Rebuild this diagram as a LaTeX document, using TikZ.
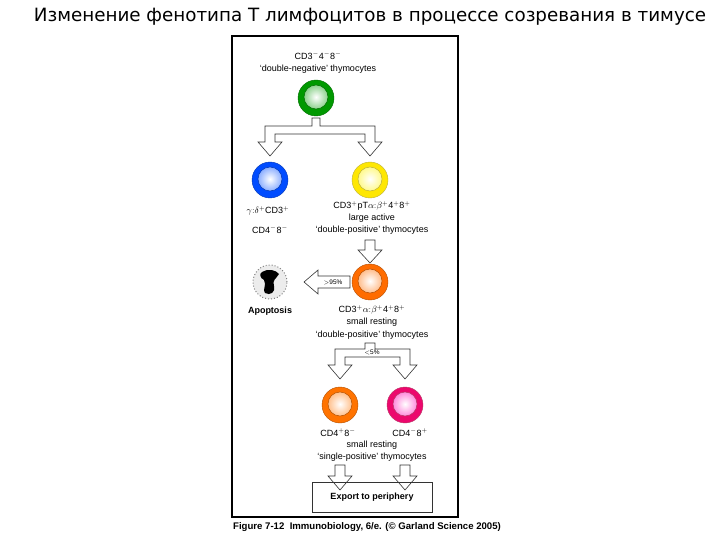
\documentclass[tikz,border=0pt]{standalone}
\usepackage{fontspec}
\setmainfont{Liberation Sans}
\newfontfamily\titlefont{DejaVu Sans}
\begin{document}
\begin{tikzpicture}[x=1pt,y=-1pt,
  lbl/.style={font=\fontsize{9}{9}\selectfont,inner sep=0pt},
  blk/.style={draw=black!80,fill=white,line width=0.6pt,line join=miter}]
\useasboundingbox (0,0) rectangle (720,540);
\node[font=\titlefont\fontsize{18.3}{19}\selectfont,inner sep=0pt] (title) at (370,17) {Изменение фенотипа Т лимфоцитов в процессе созревания в тимусе};
\draw[line width=1.2pt] (232,36) rectangle (458,517);
% cells
\newcommand{\cell}[4]{%
  \node[circle,minimum size=36pt,inner sep=0pt,fill=#3,draw=#3!70!black,line width=0.4pt] (#4) at (#1,#2) {};
  \shade[inner color=white,outer color=#3!45] (#1,#2-1) circle (12);
  \draw[#3!70!black,line width=0.5pt] (#1,#2-1) circle (12);}
\cell{316}{98}{green!60!black}{dn}
\cell{270}{180}{blue!70!cyan}{gd}
\cell{370}{180}{yellow!90!orange}{dp}
\cell{370}{282}{orange!85!red}{sdp}
\cell{340}{405}{orange!90!red}{cd4}
\cell{405}{405}{magenta!70!red}{cd8}
% apoptosis
\node[circle,minimum size=34pt,draw=gray,dotted,line width=1pt,fill=gray!15] (apo) at (270,282) {};
\fill[black] (262,272) .. controls (268,268) and (276,270) .. (279,274) .. controls (276,279) and (272,280) .. (274,286) .. controls (276,292) and (270,296) .. (265,293) .. controls (262,290) and (267,285) .. (264,280) .. controls (260,278) and (259,274) .. (262,272);
% texts
\node[lbl] (t1) at (318,56) {CD3$^-$4$^-$8$^-$};
\node[lbl] (t2) at (318,69) {‘double-negative’ thymocytes};
\node[lbl] (t3) at (268,211) {$\gamma{:}\delta^+$CD3$^+$};
\node[lbl] (t4) at (270,230) {CD4$^-$8$^-$};
\node[lbl] (t5) at (372,206) {CD3$^+$pT$\alpha{:}\beta^+$4$^+$8$^+$};
\node[lbl] (t6) at (372,218) {large active};
\node[lbl] (t7) at (372,230) {‘double-positive’ thymocytes};
\node[lbl,font=\bfseries\fontsize{9}{9}\selectfont] (t8) at (270,311) {Apoptosis};
\node[lbl] (t9) at (372,310) {CD3$^+\alpha{:}\beta^+$4$^+$8$^+$};
\node[lbl] (t10) at (372,322) {small resting};
\node[lbl] (t11) at (372,335) {‘double-positive’ thymocytes};
\node[lbl] (t12) at (338,433) {CD4$^+$8$^-$};
\node[lbl] (t13) at (410,433) {CD4$^-$8$^+$};
\node[lbl] (t14) at (372,445) {small resting};
\node[lbl] (t15) at (372,457) {‘single-positive’ thymocytes};
% branch arrow 1
\draw[blk] (312,118) -- (320,118) -- (320,126) -- (375,126) -- (375,142) -- (382,142) -- (370,156) -- (358,142) -- (365,142) -- (365,134) -- (275,134) -- (275,142) -- (282,142) -- (270,156) -- (258,142) -- (265,142) -- (265,126) -- (312,126) -- cycle;
% down arrow
\draw[blk] (365,240) -- (375,240) -- (375,250) -- (382,250) -- (370,263) -- (358,250) -- (365,250) -- cycle;
% left arrow
\draw[blk] (350,276) -- (318,276) -- (318,270) -- (304,282) -- (318,294) -- (318,288) -- (350,288) -- cycle;
\node[lbl,font=\fontsize{6.5}{7}\selectfont] (p95) at (333,282) {$>$95\%};
% branch arrow 2
\draw[blk] (365,343) -- (375,343) -- (375,349) -- (410,349) -- (410,365) -- (417,365) -- (405,379) -- (393,365) -- (400,365) -- (400,357) -- (345,357) -- (345,365) -- (352,365) -- (340,379) -- (328,365) -- (335,365) -- (335,349) -- (365,349) -- cycle;
\node[lbl,font=\fontsize{6.5}{7}\selectfont] (p5) at (372,353) {$<$5\%};
% export arrows
\draw[blk] (335,465) -- (345,465) -- (345,476) -- (352,476) -- (340,490) -- (328,476) -- (335,476) -- cycle;
\draw[blk] (400,465) -- (410,465) -- (410,476) -- (417,476) -- (405,490) -- (393,476) -- (400,476) -- cycle;
\node[draw=black!80,line width=0.6pt,minimum width=120pt,minimum height=30pt,font=\bfseries\fontsize{9}{9}\selectfont,fill=none] (exp) at (372,497) {Export to periphery};
\node[font=\bfseries\fontsize{9.6}{10}\selectfont,inner sep=0pt] (cap) at (367,527) {Figure 7-12\ \ Immunobiology, 6/e. (© Garland Science 2005)};
\end{tikzpicture}
\end{document}
